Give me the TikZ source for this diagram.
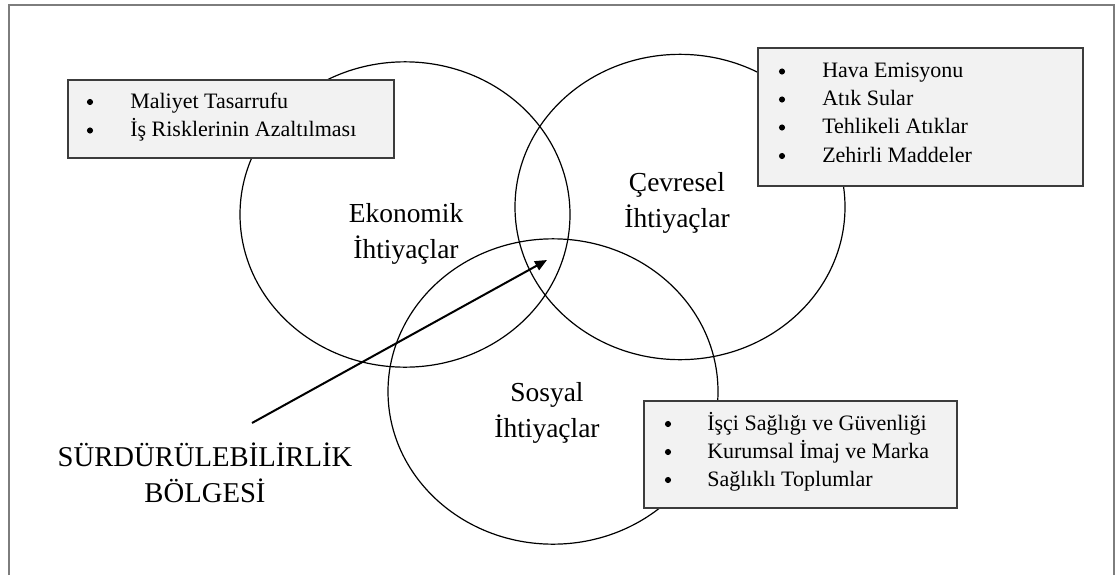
\documentclass[tikz,border=0pt]{standalone}
\usepackage{fontspec}
\setmainfont{Liberation Serif}
\usepackage{tikz}
\usetikzlibrary{arrows.meta, positioning, shapes.geometric}
\definecolor{boxgray}{RGB}{242, 242, 242}
\definecolor{edgegray}{RGB}{60, 60, 60}
\definecolor{framegray}{RGB}{125, 125, 125}

\begin{document}
\begin{tikzpicture}[x=0.75pt, y=-0.75pt,
  need/.style={draw, ellipse, line width=0.9pt, minimum width=247.5pt,
               minimum height=229pt, inner sep=0pt},
  needlabel/.style={align=center, font=\fontsize{20.6}{27}\selectfont},
  listbox/.style={fill=boxgray, draw=edgegray, line width=1.4pt},
  item/.style={anchor=base west, inner sep=0pt, font=\fontsize{16.5}{21}\selectfont},
  bulletdot/.style={circle, fill=black, inner sep=0pt, minimum size=4.6pt}]

  \useasboundingbox (0,0) rectangle (1117,575);
  \draw[framegray, line width=1.5pt] (9,575) -- (9,5) -- (1114,5) -- (1114,575);

  \node[need] (eko) at (405,214.5) {};
  \node[need] (cev) at (680,207) {};
  \node[need] (sos) at (553,391.5) {};

  \node[needlabel] (ekolbl) at (406,233.5) {Ekonomik\\İhtiyaçlar};
  \node[needlabel] (cevlbl) at (677,203) {Çevresel\\İhtiyaçlar};
  \node[needlabel] (soslbl) at (547,412.5) {Sosyal\\İhtiyaçlar};

  \draw[listbox] (68,80) rectangle (394,158);
  \foreach \y/\name [count=\i] in {108/Maliyet Tasarrufu,
                                   136.5/İş Risklerinin Azaltılması} {
    \node[bulletdot] (ekob\i) at (90,\y-6) {};
    \node[item] (ekoi\i) at (130,\y) {\name};
  }

  \draw[listbox] (758,48) rectangle (1083,186);
  \foreach \y/\name [count=\i] in {77.5/Hava Emisyonu, 105.5/Atık Sular,
                                   133.5/Tehlikeli Atıklar, 162/Zehirli Maddeler} {
    \node[bulletdot] (cevb\i) at (782,\y-6) {};
    \node[item] (cevi\i) at (822,\y) {\name};
  }

  \draw[listbox] (644,401) rectangle (957,508);
  \foreach \y/\name [count=\i] in {430/İşçi Sağlığı ve Güvenliği,
                                   458/Kurumsal İmaj ve Marka, 486/Sağlıklı Toplumlar} {
    \node[bulletdot] (sosb\i) at (668,\y-6) {};
    \node[item] (sosi\i) at (707,\y) {\name};
  }

  \node[align=center, font=\fontsize{21.5}{27}\selectfont] (bolge) at (205,473)
    {SÜRDÜRÜLEBİLİRLİK\\BÖLGESİ};
  \coordinate (tail) at (252,423);
  \coordinate (zone) at (547,260);
  \draw[-{Triangle[length=9pt, width=7.5pt]}, line width=1.5pt] (tail) -- (zone);

\end{tikzpicture}
\end{document}
